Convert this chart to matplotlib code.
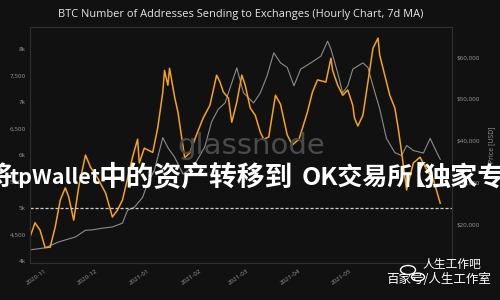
import matplotlib
matplotlib.use("Agg")
import matplotlib.pyplot as plt
import matplotlib.patches as mpatches
import pandas as pd

# ---------------- data ----------------
addr_dates = ["2020-10-23","2020-10-26","2020-10-29","2020-11-01","2020-11-04","2020-11-07","2020-11-10",
              "2020-11-13","2020-11-15","2020-11-18","2020-11-21","2020-11-25","2020-11-28","2020-12-02",
              "2020-12-07","2020-12-11","2020-12-14","2020-12-17","2020-12-23","2020-12-26","2020-12-27",
              "2020-12-30","2021-01-04","2021-01-07","2021-01-10","2021-01-11","2021-01-13","2021-01-14",
              "2021-01-17","2021-01-19","2021-01-21","2021-01-23","2021-01-26","2021-01-30","2021-02-03",
              "2021-02-07","2021-02-11","2021-02-13","2021-02-15","2021-02-18","2021-02-20","2021-02-23",
              "2021-02-26","2021-02-28","2021-03-03","2021-03-06","2021-03-09","2021-03-11","2021-03-14",
              "2021-03-18","2021-03-21","2021-03-25","2021-03-28","2021-04-01","2021-04-06","2021-04-09",
              "2021-04-12","2021-04-17","2021-04-20","2021-04-21","2021-04-24","2021-04-27","2021-04-30",
              "2021-05-03","2021-05-04","2021-05-06","2021-05-09","2021-05-12","2021-05-15","2021-05-18",
              "2021-05-19","2021-05-22","2021-05-25","2021-05-28","2021-05-30","2021-06-01","2021-06-04",
              "2021-06-08","2021-06-12","2021-06-16","2021-06-20","2021-06-24"]
addr_values = [4450,4720,4580,4250,4260,4640,5150,
               5380,5210,4770,5400,6000,5770,5580,
               5280,4830,4960,5150,5960,6300,5850,
               6130,6050,6520,7190,7600,7320,7640,
               7100,6810,6380,5950,6040,6380,6700,
               6940,7510,7380,7190,7080,6620,7000,
               7510,7320,6890,6750,6430,6300,6340,
               7130,6960,6380,6190,6300,6810,7190,
               7420,7380,7830,7600,7320,7130,7230,
               6940,6700,6550,6750,7380,8020,8210,
               7890,7510,7130,6890,6510,6060,5340,
               5850,5960,5720,5530,5090]

price_dates = ["2020-10-23","2020-11-01","2020-11-09","2020-11-19","2020-11-25","2020-11-29","2020-12-05",
               "2020-12-11","2020-12-17","2020-12-20","2020-12-24","2020-12-29","2021-01-01","2021-01-05",
               "2021-01-10","2021-01-13","2021-01-17","2021-01-22","2021-01-26","2021-01-30","2021-02-04",
               "2021-02-08","2021-02-12","2021-02-16","2021-02-23","2021-02-27","2021-03-05","2021-03-09",
               "2021-03-13","2021-03-17","2021-03-21","2021-03-25","2021-03-29","2021-04-02","2021-04-08",
               "2021-04-14","2021-04-18","2021-04-20","2021-04-24","2021-04-27","2021-04-30","2021-05-03",
               "2021-05-09","2021-05-12","2021-05-15","2021-05-19","2021-05-23","2021-05-28","2021-06-01",
               "2021-06-04","2021-06-08","2021-06-14","2021-06-18","2021-06-22","2021-06-24"]
price_values = [13800,14300,15700,16900,18500,18600,19000,
                19300,20200,23300,24000,26400,29800,32900,
                40700,38300,36000,32000,33000,35000,38500,
                44500,47500,49000,57400,51400,49000,51400,
                55500,61000,58600,57500,53100,57100,58600,
                60200,63800,61900,56200,51400,53100,57100,
                58600,57500,53100,47600,40500,37100,36400,
                38800,37600,37000,40500,37100,35500]

left_ticks = [4000, 4500, 5000, 5500, 6000, 6500, 7000, 7500, 8000]
left_labels = ["4k", "4,500", "5k", "5,500", "6k", "6,500", "7k", "7,500", "8k"]
right_ticks = [20000, 30000, 40000, 50000, 60000]
right_labels = ["$20,000", "$30,000", "$40,000", "$50,000", "$60,000"]
x_ticks = ["2020-11-01", "2020-12-01", "2021-01-01", "2021-02-01", "2021-03-01", "2021-04-01", "2021-05-01"]
x_labels = ["2020-11", "2020-12", "2021-01", "2021-02", "2021-03", "2021-04", "2021-05"]
threshold = 5000

title = "BTC Number of Addresses Sending to Exchanges (Hourly Chart, 7d MA)"
overlay_parts = ["将", "tpWallet", "中的资产转移到", "OK交易所", "【", "独家专"]
mark1 = "人生工作吧"
mark2 = "百家号/人生工作室"

# ---------------- plot ----------------
plt.rcParams['font.family'] = ['Open Sans', 'DejaVu Sans']
BG = "#111111"
W, H = 500.0, 300.0
fig = plt.figure(figsize=(5, 3), dpi=100, facecolor=BG)
ax = fig.add_axes([0.06, 0.1233, 0.844, 0.7867])
ax2 = ax.twinx()
ax.set_zorder(ax2.get_zorder() + 1)
ax.patch.set_visible(False)
ax2.set_facecolor(BG)

ad = pd.to_datetime(addr_dates)
pdts = pd.to_datetime(price_dates)

ax2.plot(pdts, price_values, color="#8c8c8c", lw=0.8)
ax.plot(ad, addr_values, color="#f7a21c", lw=1.1)
ax.axhline(threshold, color="#d0d0d0", lw=0.9, ls=(0, (2.5, 1.5)))

ax.set_xlim(pd.Timestamp("2020-10-23"), pd.Timestamp("2021-07-01"))
ax.set_ylim(3960, 8420)
ax2.set_ylim(10660, 67190)

ax.set_yticks(left_ticks)
ax.set_yticklabels(left_labels)
ax2.set_yticks(right_ticks)
ax2.set_yticklabels(right_labels)
ax.set_xticks(pd.to_datetime(x_ticks))
ax.set_xticklabels(x_labels, rotation=35, ha="right", rotation_mode="anchor")

for a in (ax, ax2):
    a.tick_params(colors="#9a9a9a", labelsize=4.5, length=0, pad=3)
    for s in a.spines.values():
        s.set_color("#2e2e2e")
        s.set_linewidth(0.8)
ax.tick_params(axis="x", pad=4)
ax2.set_ylabel("Price [USD]", color="#9a9a9a", fontsize=5, labelpad=6)

fig.text(0.482, 0.95, title, color="#e6e6e6", fontsize=7.9, ha="center", va="center")

# watermarks
fig.text(0.503, 0.515, "glassnode", color="#4a4a4a", fontsize=21, ha="center", va="center",
         family=["DejaVu Sans"], zorder=5)
cjk = ["Noto Sans CJK SC", "DejaVu Sans"]
overlay_x = [-15, 10, 99, 302, 413, 423]
overlay_size = [19, 15.5, 20, 18, 19, 19.5]
overlay_ha = ["left", "left", "left", "left", "center", "left"]
for txt, px, fs, h in zip(overlay_parts, overlay_x, overlay_size, overlay_ha):
    fig.text(px / W, 0.407, txt, color="white", fontsize=fs, fontweight="bold", ha=h,
             va="center", family=cjk, zorder=10)

# small badge icon (two bubbles) + account marks
for cx, cy, r in [(408, 270, 7.5), (418, 277, 6.5)]:
    fig.patches.append(mpatches.Circle((cx / W, 1 - cy / H), r / W, transform=fig.transFigure,
                                       facecolor="none", edgecolor="white", lw=1.0, zorder=10))
fig.text(0.845, 0.117, mark1, color="white", fontsize=8.5, ha="left", va="center", family=cjk, zorder=10)
fig.text(0.772, 0.067, mark2, color="white", fontsize=9, ha="left", va="center", family=cjk, zorder=10)

fig.savefig("out.png", dpi=100, facecolor=BG)
